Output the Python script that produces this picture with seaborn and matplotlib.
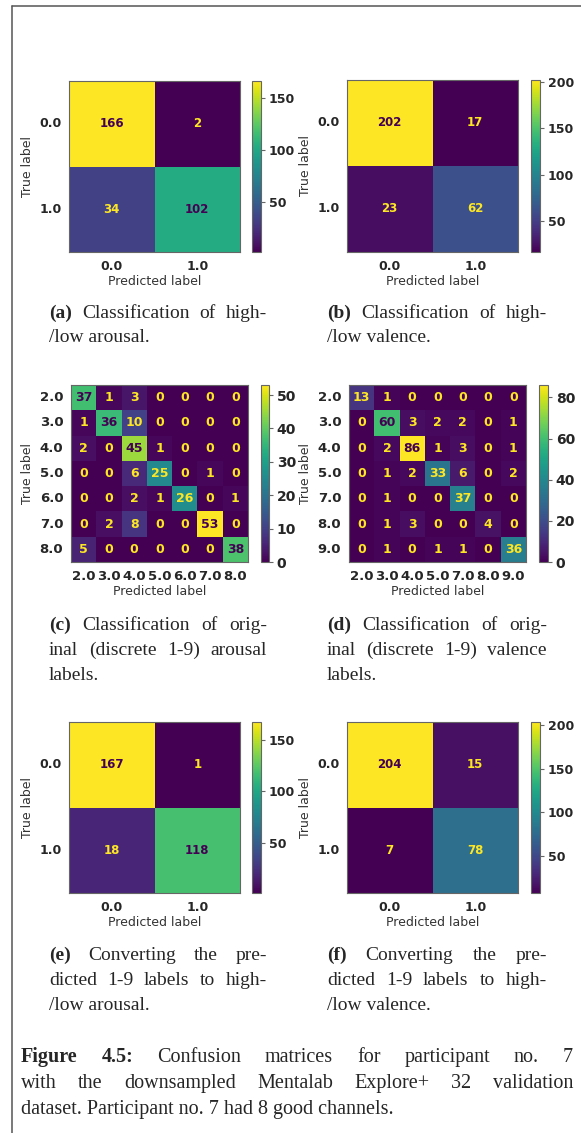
import numpy as np
import matplotlib
matplotlib.use("Agg")
import matplotlib.pyplot as plt
from matplotlib.lines import Line2D
import seaborn as sns

# ---------------- data ----------------
bin_labels = ["0.0", "1.0"]
a_cm = [[166, 2], [34, 102]]
b_cm = [[202, 17], [23, 62]]
e_cm = [[167, 1], [18, 118]]
f_cm = [[204, 15], [7, 78]]

c_labels = ["2.0", "3.0", "4.0", "5.0", "6.0", "7.0", "8.0"]
c_cm = [[37, 1, 3, 0, 0, 0, 0],
        [1, 36, 10, 0, 0, 0, 0],
        [2, 0, 45, 1, 0, 0, 0],
        [0, 0, 6, 25, 0, 1, 0],
        [0, 0, 2, 1, 26, 0, 1],
        [0, 2, 8, 0, 0, 53, 0],
        [5, 0, 0, 0, 0, 0, 38]]

d_labels = ["2.0", "3.0", "4.0", "5.0", "7.0", "8.0", "9.0"]
d_cm = [[13, 1, 0, 0, 0, 0, 0],
        [0, 60, 3, 2, 2, 0, 1],
        [0, 2, 86, 1, 3, 0, 1],
        [0, 1, 2, 33, 6, 0, 2],
        [0, 1, 0, 0, 37, 0, 0],
        [0, 1, 3, 0, 0, 4, 0],
        [0, 1, 0, 1, 1, 0, 36]]

a_cbar_ticks = [50, 100, 150]
b_cbar_ticks = [50, 100, 150, 200]
c_cbar_ticks = [0, 10, 20, 30, 40, 50]
d_cbar_ticks = [0, 20, 40, 60, 80]
e_cbar_ticks = [50, 100, 150]
f_cbar_ticks = [50, 100, 150, 200]

sub_captions = {
    "a": [("(a)", "Classification of high-"), "/low arousal."],
    "b": [("(b)", "Classification of high-"), "/low valence."],
    "c": [("(c)", "Classification of orig-"), "inal (discrete 1-9) arousal", "labels."],
    "d": [("(d)", "Classification of orig-"), "inal (discrete 1-9) valence", "labels."],
    "e": [("(e)", "Converting the pre-"), "dicted 1-9 labels to high-", "/low arousal."],
    "f": [("(f)", "Converting the pre-"), "dicted 1-9 labels to high-", "/low valence."],
}
fig_caption = [("Figure 4.5:", "Confusion matrices for participant no. 7"),
               "with the downsampled Mentalab Explore+ 32 validation",
               "dataset. Participant no. 7 had 8 good channels."]

# ---------------- figure ----------------
W, H = 581, 1133
sns.set_style("white")
plt.rcParams["font.family"] = ["DejaVu Sans"]
fig = plt.figure(figsize=(W / 100, H / 100), dpi=100)
fig.patch.set_facecolor("white")

cmap = plt.get_cmap("viridis")
DARK, LIGHT = cmap(0.0), cmap(1.0)
EDGE = "#666666"


def rect(x0, y0, x1, y1):
    return [x0 / W, 1 - y1 / H, (x1 - x0) / W, (y1 - y0) / H]


def draw_cm(cm, labels, axbox, cbox, cticks, tick_fs, ann_fs, cb_fs):
    cm = np.array(cm)
    ax = fig.add_axes(rect(*axbox))
    cax = fig.add_axes(rect(*cbox))
    sns.heatmap(cm, ax=ax, cbar_ax=cax, cmap="viridis", annot=True, fmt="d",
                annot_kws={"fontsize": ann_fs, "fontweight": "bold"},
                xticklabels=labels, yticklabels=labels, linewidths=0)
    thresh = (cm.max() + cm.min()) / 2.0
    for t in ax.texts:
        v = int(t.get_text())
        t.set_color(DARK if v >= thresh else LIGHT)
    for sp in ax.spines.values():
        sp.set_visible(True)
        sp.set_color(EDGE)
        sp.set_linewidth(0.8)
    ax.tick_params(length=3, width=0.8, color=EDGE, pad=2.5)
    ax.set_xticklabels(labels, fontsize=tick_fs, fontweight="bold", rotation=0)
    ax.set_yticklabels(labels, fontsize=tick_fs, fontweight="bold", rotation=0)
    ax.set_xlabel("Predicted label", fontsize=9, color="#333333", labelpad=1.5)
    ax.set_ylabel("True label", fontsize=9, color="#333333", labelpad=4)
    cb = ax.collections[0].colorbar
    cb.set_ticks(cticks)
    cb.outline.set_edgecolor(EDGE)
    cb.outline.set_linewidth(0.8)
    cax.tick_params(length=3, width=0.8, color=EDGE, pad=2.5)
    for lab in cax.get_yticklabels():
        lab.set_fontsize(cb_fs)
        lab.set_fontweight("bold")
    return ax


draw_cm(a_cm, bin_labels, (69, 81, 240, 252), (252, 81, 261, 252), a_cbar_ticks, 9, 8.5, 9)
draw_cm(b_cm, bin_labels, (347, 80, 518, 252), (531, 80, 540, 252), b_cbar_ticks, 9, 8.5, 9)
draw_cm(c_cm, c_labels, (71, 385, 248, 562), (261, 385, 269, 562), c_cbar_ticks, 9.5, 9, 10)
draw_cm(d_cm, d_labels, (349, 385, 526, 562), (539, 385, 548, 562), d_cbar_ticks, 9.5, 9, 10)
draw_cm(e_cm, bin_labels, (69, 722, 240, 893), (252, 722, 261, 893), e_cbar_ticks, 9, 8.5, 9)
draw_cm(f_cm, bin_labels, (347, 722, 518, 893), (531, 722, 540, 893), f_cbar_ticks, 9, 8.5, 9)

# ---------------- captions (justified serif text) ----------------
SERIF = "Liberation Serif"
renderer = fig.canvas.get_renderer()


def put_line(content, x0, x1, yb, fs, justify):
    if isinstance(content, tuple):
        bold_part, rest = content
        tokens = [(w, "bold") for w in bold_part.split()] + [(w, "normal") for w in rest.split()]
    else:
        tokens = [(w, "normal") for w in content.split()]
    if not justify:
        fig.text(x0 / W, 1 - yb / H, content if isinstance(content, str) else " ".join(content),
                 fontsize=fs, family=SERIF, va="baseline", ha="left")
        return
    texts = []
    widths = []
    for s, wgt in tokens:
        t = fig.text(0, 1 - yb / H, s, fontsize=fs, fontweight=wgt, family=SERIF,
                     va="baseline", ha="left")
        texts.append(t)
        widths.append(t.get_window_extent(renderer).width)
    gap = (x1 - x0 - sum(widths)) / max(len(tokens) - 1, 1)
    x = x0
    for t, w in zip(texts, widths):
        t.set_x(x / W)
        x += w + gap


def put_block(lines, x0, x1, baselines, fs):
    for i, (ln, yb) in enumerate(zip(lines, baselines)):
        put_line(ln, x0, x1, yb, fs, justify=(i < len(lines) - 1))


CFS = 14
put_block(sub_captions["a"], 49, 267, [318, 342], CFS)
put_block(sub_captions["b"], 327, 547, [318, 342], CFS)
put_block(sub_captions["c"], 49, 267, [630, 655, 680], CFS)
put_block(sub_captions["d"], 327, 547, [630, 655, 680], CFS)
put_block(sub_captions["e"], 49, 267, [960, 985, 1010], CFS)
put_block(sub_captions["f"], 327, 547, [960, 985, 1010], CFS)
put_block(fig_caption, 21, 573, [1062, 1088, 1114], 14.5)

# ---------------- page frame ----------------
fx, fy = 12 / W, 1 - 5.5 / H
fig.add_artist(Line2D([fx, fx], [0, fy], transform=fig.transFigure, color="#555555", lw=1.1))
fig.add_artist(Line2D([fx, 1], [fy, fy], transform=fig.transFigure, color="#555555", lw=1.1))

fig.savefig("out.png", dpi=100, facecolor="white")
